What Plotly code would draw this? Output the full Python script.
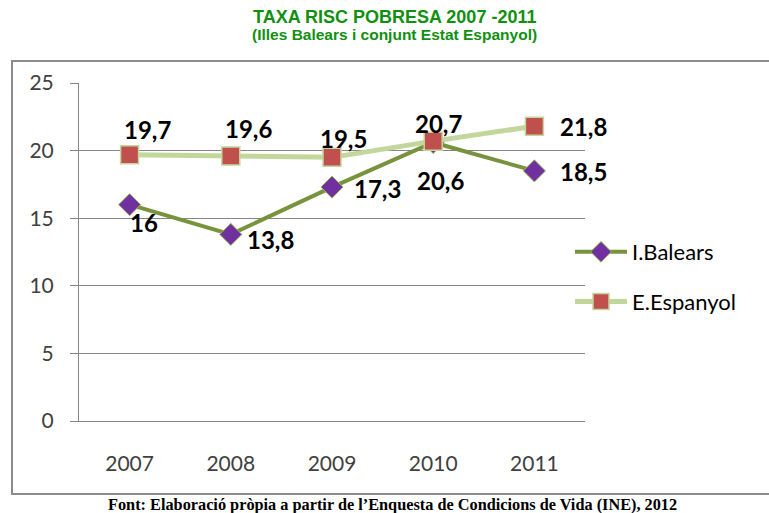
import plotly.graph_objects as go

years = ["2007", "2008", "2009", "2010", "2011"]
balears = [16.0, 13.8, 17.3, 20.6, 18.5]
espanyol = [19.7, 19.6, 19.5, 20.7, 21.8]
balears_labels = ["16", "13,8", "17,3", "20,6", "18,5"]
espanyol_labels = ["19,7", "19,6", "19,5", "20,7", "21,8"]
y_ticks = [0, 5, 10, 15, 20, 25]

W, H = 769, 513
L, R, T, B = 79, 585, 83, 421

fig = go.Figure()
fig.add_trace(go.Scatter(
    x=years, y=balears, name="I.Balears", mode="lines+markers", legendgroup="a",
    line=dict(color="#77933C", width=4),
    marker=dict(symbol="diamond", size=17, color="#7030A0",
                line=dict(color="#9BBB59", width=1)),
))
fig.add_trace(go.Scatter(
    x=years, y=espanyol, name="E.Espanyol", mode="lines+markers", legendgroup="b",
    line=dict(color="#C3D69B", width=5),
    marker=dict(symbol="square", size=18, color="#C0504D",
                line=dict(color="#C3D69B", width=1.5)),
))

lab_font = dict(family="Lato, Open Sans, sans-serif", size=24, color="#000000")
esp_shift = [(18, 25), (18, 28), (11, 19), (5, 18), (49, 0)]
bal_shift = [(14, -18), (40, -5), (45, -1), (7, -38), (49, -1)]
for i in range(len(years)):
    dx, dy = esp_shift[i]
    fig.add_annotation(x=i, y=espanyol[i], text="<b>" + espanyol_labels[i] + "</b>",
                       showarrow=False, xshift=dx, yshift=dy, font=lab_font,
                       xanchor="center", yanchor="middle")
    dx, dy = bal_shift[i]
    fig.add_annotation(x=i, y=balears[i], text="<b>" + balears_labels[i] + "</b>",
                       showarrow=False, xshift=dx, yshift=dy, font=lab_font,
                       xanchor="center", yanchor="middle")

pw, ph = R - L, B - T
def px(xp):
    return (xp - L) / pw
def py(yp):
    return (B - yp) / ph

fig.add_shape(type="rect", xref="paper", yref="paper",
              x0=px(12), x1=px(790), y0=py(494), y1=py(61),
              line=dict(color="#8C8C8C", width=2), layer="below")

fig.add_annotation(xref="paper", yref="paper", x=px(394), y=py(17),
                   xanchor="center", yanchor="middle",
                   text="<b>TAXA RISC POBRESA 2007 -2011</b>", showarrow=False,
                   font=dict(family="Liberation Sans, Arial", size=18, color="#109010"))
fig.add_annotation(xref="paper", yref="paper", x=px(394), y=py(35),
                   xanchor="center", yanchor="middle",
                   text="<b>(Illes Balears i conjunt Estat Espanyol)</b>", showarrow=False,
                   font=dict(family="Liberation Sans, Arial", size=15.5, color="#109010"))
fig.add_annotation(xref="paper", yref="paper", x=px(392), y=py(504),
                   xanchor="center", yanchor="middle",
                   text="<b>Font: Elaboració pròpia a partir de l’Enquesta de Condicions de Vida (INE), 2012</b>",
                   showarrow=False,
                   font=dict(family="Liberation Serif, Times New Roman", size=16.3, color="#000000"))

fig.update_layout(
    width=W, height=H,
    margin=dict(l=L, r=W - R, t=T, b=H - B),
    plot_bgcolor="white", paper_bgcolor="white",
    showlegend=True,
    legend=dict(x=px(570), y=py(231), xanchor="left", yanchor="top",
                font=dict(family="Lato, Open Sans, sans-serif", size=22, color="#000000"),
                traceorder="grouped", tracegroupgap=18, itemwidth=52,
                bgcolor="rgba(0,0,0,0)"),
)
fig.update_xaxes(
    type="category", range=[-0.5, 4.5], showgrid=False,
    showline=True, linecolor="#868686", linewidth=1,
    ticks="", tickfont=dict(family="Lato, Open Sans, sans-serif", size=21, color="#404040"),
    ticklabelstandoff=24,
)
fig.update_yaxes(
    range=[0, 25], tickvals=y_ticks, showgrid=True, gridcolor="#868686", gridwidth=1,
    showline=True, linecolor="#868686", linewidth=1, zeroline=False,
    ticks="outside", ticklen=8, tickcolor="#868686", ticklabelstandoff=12,
    tickfont=dict(family="Lato, Open Sans, sans-serif", size=21, color="#404040"),
)

fig.write_html("out.html", config={"displayModeBar": False},
               post_script="document.body.style.margin='0px';")
